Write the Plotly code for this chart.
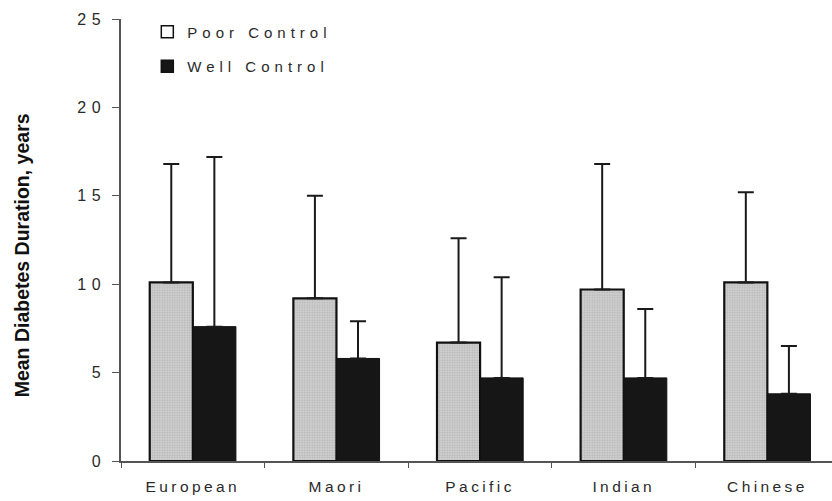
import plotly.graph_objects as go

# Mean diabetes duration (years) by ethnic group, split by glycaemic control
groups = ["European", "Maori", "Pacific", "Indian", "Chinese"]
poor_mean = [10.1, 9.2, 6.7, 9.7, 10.1]
poor_sd = [6.7, 5.8, 5.9, 7.1, 5.1]
well_mean = [7.6, 5.8, 4.7, 4.7, 3.8]
well_sd = [9.6, 2.1, 5.7, 3.9, 2.7]
y_ticks = [0, 5, 10, 15, 20, 25]

FONT = "Liberation Sans, Arial, sans-serif"
TXT = "#2a2a2a"


def spaced(s, px=3):
    return f'<span style="letter-spacing:{px}px">{s}</span>'


fig = go.Figure()

fig.add_trace(go.Bar(
    x=groups, y=poor_mean, name="Poor Control", showlegend=False,
    marker=dict(
        color="#cfcfcf",
        line=dict(color="#111111", width=2.2),
        pattern=dict(shape=".", fgcolor="#9a9a9a", bgcolor="#d6d6d6",
                     size=2.5, solidity=0.5),
    ),
    error_y=dict(type="data", array=poor_sd, arrayminus=[0] * len(poor_sd),
                 symmetric=False, color="#1a1a1a", thickness=2, width=8),
))
fig.add_trace(go.Bar(
    x=groups, y=well_mean, name="Well Control", showlegend=False,
    marker=dict(color="#161616", line=dict(color="#111111", width=1)),
    error_y=dict(type="data", array=well_sd, arrayminus=[0] * len(well_sd),
                 symmetric=False, color="#1a1a1a", thickness=2, width=8),
))

# legend keys: open box for poor control, filled box for well control
fig.add_trace(go.Scatter(
    x=[None], y=[None], mode="markers", name=spaced("Poor Control", 5),
    legendgroup="a",
    marker=dict(symbol="square", size=12, color="white",
                line=dict(color="#111111", width=1.5)),
))
fig.add_trace(go.Scatter(
    x=[None], y=[None], mode="markers", name=spaced("Well Control", 5),
    legendgroup="b",
    marker=dict(symbol="square", size=12, color="#161616",
                line=dict(color="#111111", width=1.5)),
))

fig.update_layout(
    width=832, height=501,
    margin=dict(l=121, r=0, t=19, b=40),
    paper_bgcolor="white", plot_bgcolor="white",
    barmode="group", bargap=0.4, bargroupgap=0,
    font=dict(family=FONT, color=TXT, size=14),
    legend=dict(
        x=0.037, y=1.008, xanchor="left", yanchor="top",
        bgcolor="rgba(0,0,0,0)", tracegroupgap=12,
        font=dict(family=FONT, size=15, color=TXT),
        itemwidth=30,
    ),
    xaxis=dict(
        type="category", range=[-0.5, 4.45],
        tickmode="array", tickvals=groups,
        ticktext=[spaced(g, 3.4) for g in groups],
        tickson="boundaries", ticks="outside", ticklen=5,
        tickcolor="#555555", tickwidth=1,
        showline=True, linecolor="#555555", linewidth=1.5,
        showgrid=False, zeroline=False,
        tickfont=dict(family=FONT, size=15.5, color=TXT),
        ticklabelstandoff=11,
    ),
    yaxis=dict(
        range=[0, 25], tickmode="array", tickvals=y_ticks,
        ticktext=[spaced(str(v), 5.5) for v in y_ticks],
        ticks="outside", ticklen=7, tickcolor="#555555", tickwidth=1,
        showline=True, linecolor="#555555", linewidth=1.5,
        showgrid=False, zeroline=False,
        tickfont=dict(family=FONT, size=16, color=TXT),
        ticklabelstandoff=3,
    ),
    annotations=[dict(
        text="<b>Mean Diabetes Duration, years</b>",
        xref="paper", yref="paper", x=-0.138, y=0.465,
        xanchor="center", yanchor="middle", textangle=-90, showarrow=False,
        font=dict(family=FONT, size=19.5, color="#111111"),
    )],
)

fig.write_html("out.html")
